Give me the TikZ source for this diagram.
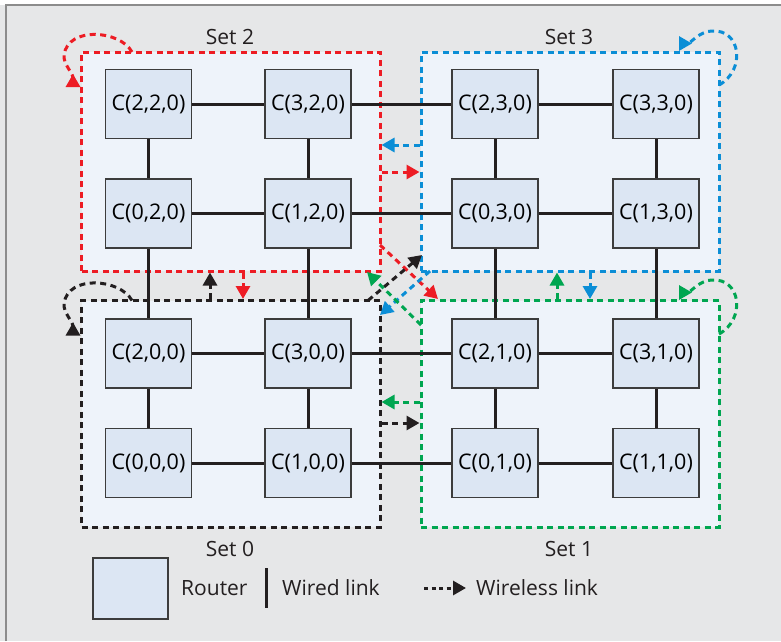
\documentclass[tikz,border=0pt]{standalone}
\usepackage{fontspec}
\setmainfont{Open Sans}
\usetikzlibrary{arrows.meta}
\definecolor{bgc}{HTML}{E6E7E8}
\definecolor{setfill}{HTML}{EEF3FA}
\definecolor{rtfill}{HTML}{DCE6F3}
\definecolor{rtdraw}{HTML}{3C3C3C}
\definecolor{cred}{HTML}{ED1C24}
\definecolor{cblue}{HTML}{0B8ED6}
\definecolor{cgreen}{HTML}{00A651}
\definecolor{cblack}{HTML}{231F20}
\definecolor{framec}{HTML}{8C8C8C}
\begin{document}
\begin{tikzpicture}[x=1pt,y=-1pt,
  router/.style={draw=rtdraw, line width=1.8pt, fill=rtfill, minimum width=86pt, minimum height=69pt, inner sep=0pt, font=\fontsize{21.5}{25}\selectfont},
  setbox/.style={draw=#1, line width=3pt, dash pattern=on 6pt off 4.5pt, fill=setfill, inner sep=0pt},
  wire/.style={draw=cblack, line width=3pt},
  wl/.style={draw=#1, line width=3pt, dash pattern=on 6pt off 4.5pt, -{Triangle[length=13pt,width=14pt]}},
  loopwl/.style={draw=#1, line width=3pt, dash pattern=on 6pt off 4.5pt, -{Triangle[reversed,length=13pt,width=14pt]}},
  lbl/.style={font=\fontsize{21}{25}\selectfont, inner sep=0pt, text=cblack}
]
\useasboundingbox (0,0) rectangle (781,641);
\fill[white] (0,0) rectangle (781,641);
\fill[bgc] (0,5) rectangle (781,641);
\draw[framec, line width=2pt] (6,641) -- (6,5) -- (781,5);

% sets
\node[setbox=cred, minimum width=298.5pt, minimum height=219pt] (s2) at (230.75,161.5) {};
\node[setbox=cblue, minimum width=298pt, minimum height=219pt] (s3) at (570,161.5) {};
\node[setbox=cblack, minimum width=298.5pt, minimum height=226.5pt] (s0) at (230.75,413.75) {};
\node[setbox=cgreen, minimum width=298pt, minimum height=226.5pt] (s1) at (570,413.75) {};

\node[lbl] (l2) at (230,37) {Set 2};
\node[lbl] (l3) at (569,37) {Set 3};
\node[lbl] (l0) at (230,549) {Set 0};
\node[lbl] (l1) at (569,549) {Set 1};

% routers
\node[router] (r220) at (148.5,104) {C(2,2,0)};
\node[router] (r320) at (308,104) {C(3,2,0)};
\node[router] (r230) at (495,104) {C(2,3,0)};
\node[router] (r330) at (656,104) {C(3,3,0)};
\node[router] (r020) at (148.5,213.7) {C(0,2,0)};
\node[router] (r120) at (308,213.7) {C(1,2,0)};
\node[router] (r030) at (495,213.7) {C(0,3,0)};
\node[router] (r130) at (656,213.7) {C(1,3,0)};
\node[router] (r200) at (148.5,353.5) {C(2,0,0)};
\node[router] (r300) at (308,353.5) {C(3,0,0)};
\node[router] (r210) at (495,353.5) {C(2,1,0)};
\node[router] (r310) at (656,353.5) {C(3,1,0)};
\node[router] (r000) at (148.5,463) {C(0,0,0)};
\node[router] (r100) at (308,463) {C(1,0,0)};
\node[router] (r010) at (495,463) {C(0,1,0)};
\node[router] (r110) at (656,463) {C(1,1,0)};

% wired links
\foreach \a/\b/\c/\d in {r220/r320/r230/r330, r020/r120/r030/r130, r200/r300/r210/r310, r000/r100/r010/r110}{
  \draw[wire] (\a) -- (\b);
  \draw[wire] (\b) -- (\c);
  \draw[wire] (\c) -- (\d);
}
\foreach \a/\b/\c/\d in {r220/r020/r200/r000, r320/r120/r300/r100, r230/r030/r210/r010, r330/r130/r310/r110}{
  \draw[wire] (\a) -- (\b);
  \draw[wire] (\b) -- (\c);
  \draw[wire] (\c) -- (\d);
}

% wireless links between sets
\draw[wl=cblue] (s3.west |- 0,145) -- (s2.east |- 0,145);
\draw[wl=cred] (s2.east |- 0,172) -- (s3.west |- 0,172);
\draw[wl=cgreen] (s1.west |- 0,402) -- (s0.east |- 0,402);
\draw[wl=cblack] (s0.east |- 0,423) -- (s1.west |- 0,423);
\draw[wl=cblack] (s0.north -| 210,0) -- (s2.south -| 210,0);
\draw[wl=cred] (s2.south -| 243,0) -- (s0.north -| 243,0);
\draw[wl=cgreen] (s1.north -| 557,0) -- (s3.south -| 557,0);
\draw[wl=cblue] (s3.south -| 590,0) -- (s1.north -| 590,0);

% diagonal wireless links
\coordinate (dr1) at (380,245);  \coordinate (dr2) at (438,299);
\coordinate (dk1) at (368,300.5);\coordinate (dk2) at (422,255);
\coordinate (db1) at (430,271);  \coordinate (db2) at (380,315);
\coordinate (dg1) at (421,325);  \coordinate (dg2) at (367,272);
\draw[wl=cred] (dr1) -- (dr2);
\draw[wl=cblack] (dk1) -- (dk2);
\draw[wl=cblue] (db1) -- (db2);
\draw[wl=cgreen] (dg1) -- (dg2);

% self loops
\draw[loopwl=cred] (132,52) .. controls (120,30) and (68,26) .. (64,55) .. controls (63,64) and (73,73) .. (73,87);
\draw[loopwl=cblack] (132,300.5) .. controls (120,278.5) and (68,274.5) .. (64,303.5) .. controls (63,312.5) and (73,321.5) .. (73,335.5);
\draw[loopwl=cblue] (719,85) .. controls (746,70) and (741,29) .. (712,31) .. controls (700,31) and (690,43.5) .. (679,43.5);
\draw[loopwl=cgreen] (719,334) .. controls (746,319) and (741,278) .. (712,280) .. controls (700,280) and (690,292.5) .. (679,292.5);

% legend
\node[router, minimum width=75pt, minimum height=61pt] (lr) at (130.5,588.5) {};
\node[lbl, anchor=west] (lrt) at (181,588) {Router};
\coordinate (lw1) at (266,568); \coordinate (lw2) at (266,608);
\draw[wire] (lw1) -- (lw2);
\node[lbl, anchor=west] (lwt) at (282,588) {Wired link};
\coordinate (la1) at (424,588); \coordinate (la2) at (466,588);
\draw[wl=cblack, dash pattern=on 4pt off 3.5pt] (la1) -- (la2);
\node[lbl, anchor=west] (lat) at (476,588) {Wireless link};
\end{tikzpicture}
\end{document}
